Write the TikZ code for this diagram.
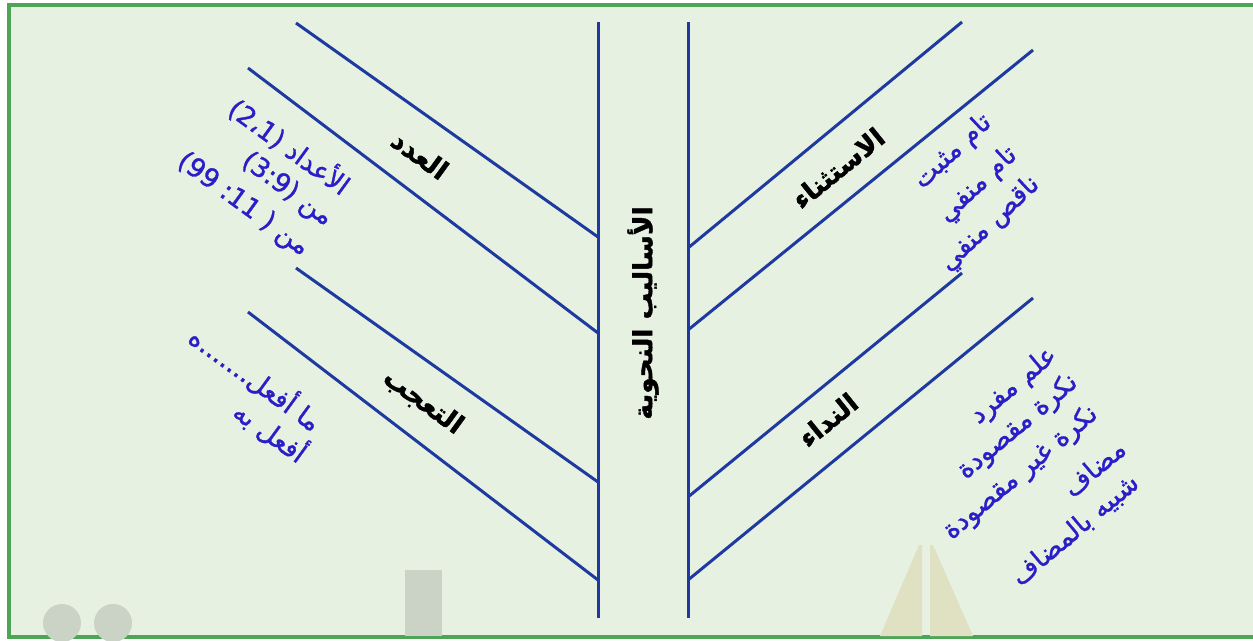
\documentclass[tikz,border=0pt]{standalone}
\usepackage{fontspec}
\newfontfamily\arabicfont[Script=Arabic,FakeBold=1.2]{DejaVu Sans}
\newfontfamily\arabicbold[Script=Arabic,FakeBold=1.5]{DejaVu Sans Bold}
\newfontfamily\numfont[FakeBold=1.2]{DejaVu Sans}
\TeXXeTstate=1
\definecolor{bggreen}{RGB}{231,241,225}
\definecolor{framegreen}{RGB}{77,166,86}
\definecolor{fishblue}{RGB}{30,58,160}
\definecolor{itemblue}{RGB}{42,30,200}
\definecolor{markgrey}{RGB}{202,211,197}
\definecolor{markbeige}{RGB}{224,224,194}

\begin{document}
\begin{tikzpicture}[x=0.02cm,y=-0.02cm,
	bone/.style={fishblue,line width=1.7pt},
	head/.style={font=\arabicbold\fontsize{15}{18}\selectfont,inner sep=0pt},
	item/.style={text=itemblue,font=\arabicfont\fontsize{15}{18}\selectfont,inner sep=0pt}]

	\useasboundingbox (0,0) rectangle (1253,640);
	\fill[white] (0,0) rectangle (1253,640);
	\draw[framegreen,fill=bggreen,line width=2pt] (9,5) rectangle (1262,637);

	% faded marks at the bottom
	\fill[markgrey] (62,623) circle (19);
	\fill[markgrey] (113,623) circle (19);
	\fill[markgrey] (405,570) rectangle (442,636);
	\fill[markbeige] (880,636) -- (919,545) -- (922,545) -- (922,636) -- cycle;
	\fill[markbeige] (930,545) -- (933,545) -- (973,636) -- (930,636) -- cycle;

	% spine
	\draw[bone] (598,22) -- (598,618);
	\draw[bone] (688,22) -- (688,618);
	\node[head,rotate=90] (asalib) at (643,313) {\beginR الأساليب النحوية\endR};

	% left bones
	\draw[bone] (296,23) -- (598,237);
	\draw[bone] (248,68) -- (598,333);
	\draw[bone] (296,268) -- (598,482);
	\draw[bone] (248,312) -- (598,580);

	\node[head,rotate=-36] (adad) at (420,155) {\beginR العدد\endR};
	\node[item,rotate=-36] (adad1) at (290,146) {\beginR الأعداد \beginL{\numfont(2،1)}\endL\endR};
	\node[item,rotate=-36] (adad2) at (287,190) {\beginR من \beginL{\numfont(3:9)}\endL\endR};
	\node[item,rotate=-36] (adad3) at (243,205) {\beginR من \beginL{\numfont(99 :11 )}\endL\endR};

	\node[head,rotate=-36] (taajjub) at (423,402) {\beginR التعجب\endR};
	\node[item,rotate=-36] (taajjub1) at (256,378) {\beginR ما أفعل.......ه\endR};
	\node[item,rotate=-36] (taajjub2) at (271,431) {\beginR أفعل به\endR};

	% right bones
	\draw[bone] (962,22) -- (688,248);
	\draw[bone] (1033,50) -- (688,330);
	\draw[bone] (962,273) -- (688,497);
	\draw[bone] (1033,298) -- (688,580);

	\node[head,rotate=39] (istithna) at (838,168) {\beginR الاستثناء\endR};
	\node[item,rotate=43] (istithna1) at (953,152) {\beginR تام مثبت\endR};
	\node[item,rotate=43] (istithna2) at (978,185) {\beginR تام منفي\endR};
	\node[item,rotate=43] (istithna3) at (990,224) {\beginR ناقص منفي\endR};

	\node[head,rotate=39] (nidaa) at (828,420) {\beginR النداء\endR};
	\node[item,rotate=40] (nidaa1) at (1014,386) {\beginR علم مفرد\endR};
	\node[item,rotate=40] (nidaa2) at (1018,427) {\beginR نكرة مقصودة\endR};
	\node[item,rotate=40] (nidaa3) at (1021,473) {\beginR نكرة غير مقصودة\endR};
	\node[item,rotate=40] (nidaa4) at (1094,468) {\beginR مضاف\endR};
	\node[item,rotate=40] (nidaa5) at (1075,530) {\beginR شبيه بالمضاف\endR};
\end{tikzpicture}
\end{document}
